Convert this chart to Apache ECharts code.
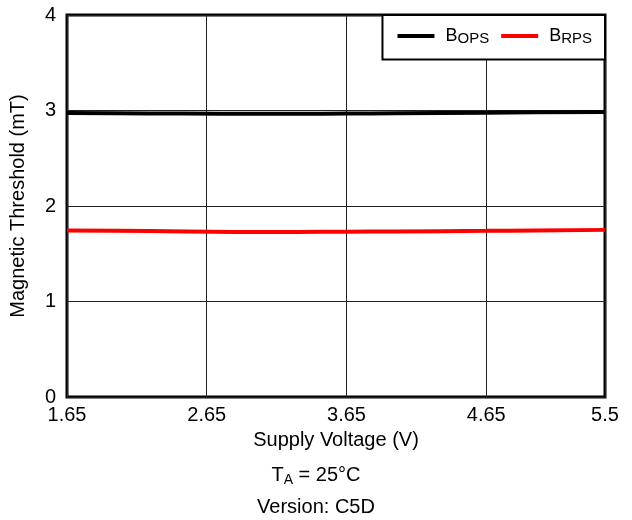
<!DOCTYPE html>
<html><head><meta charset="utf-8">
<script src="https://cdn.jsdelivr.net/npm/echarts@6/dist/echarts.min.js"></script>
<style>html,body{margin:0;padding:0;background:#fff}#c{width:632px;height:520px}</style>
</head><body><div id="c"></div>
<script>
const voltage = [1.65, 2.0, 2.5, 3.0, 3.3, 3.65, 4.0, 4.65, 5.0, 5.5];
const bops = [2.975, 2.972, 2.968, 2.966, 2.966, 2.968, 2.971, 2.977, 2.981, 2.985];
const brps = [1.743, 1.740, 1.734, 1.729, 1.729, 1.731, 1.734, 1.740, 1.744, 1.750];
const xTicks = [1.65, 2.65, 3.65, 4.65, 5.5];
const yTicks = [0, 1, 2, 3, 4];
const font = 'Liberation Sans, Arial, sans-serif';

const chart = echarts.init(document.getElementById('c'));
chart.setOption({
  animation: false,
  backgroundColor: '#fff',
  grid: {left: 67, right: 27, top: 15, bottom: 123, show: true, borderColor: '#000', borderWidth: 3},
  legend: {
    right: 27, top: 15,
    backgroundColor: '#fff', borderColor: '#000', borderWidth: 2,
    padding: [12, 13, 13, 15], itemGap: 12,
    itemWidth: 37, itemHeight: 4,
    icon: 'rect',
    data: ['BOPS', 'BRPS'],
    formatter: function (n) { return '{b|B}{s|' + n.slice(1) + '}'; },
    textStyle: {
      fontFamily: font, color: '#000',
      rich: {
        b: {fontSize: 18, fontFamily: font, color: '#000', padding: [0, 0, 0, 6]},
        s: {fontSize: 15, fontFamily: font, color: '#000', padding: [6, 0, 0, 0]}
      }
    }
  },
  xAxis: {
    type: 'value', min: 1.65, max: 5.5,
    name: 'Supply Voltage (V)', nameLocation: 'middle', nameGap: 33,
    nameTextStyle: {fontFamily: font, fontSize: 20, color: '#000'},
    axisLine: {show: false},
    axisTick: {show: false, customValues: xTicks},
    axisLabel: {customValues: xTicks, fontFamily: font, fontSize: 20, color: '#000', margin: 8,
      formatter: function (v) { return String(v); }},
    splitLine: {show: true, lineStyle: {color: '#222', width: 1}}
  },
  yAxis: {
    type: 'value', min: 0, max: 4, interval: 1,
    name: 'Magnetic Threshold (mT)', nameLocation: 'middle', nameGap: 39,
    nameTextStyle: {fontFamily: font, fontSize: 20, color: '#000'},
    axisLine: {show: false}, axisTick: {show: false},
    axisLabel: {fontFamily: font, fontSize: 20, color: '#000', margin: 11},
    splitLine: {show: true, lineStyle: {color: '#222', width: 1}}
  },
  series: [
    {name: 'BOPS', type: 'line', smooth: true, showSymbol: false,
     data: voltage.map((v, i) => [v, bops[i]]),
     lineStyle: {color: '#000', width: 4}, itemStyle: {color: '#000'}},
    {name: 'BRPS', type: 'line', smooth: true, showSymbol: false,
     data: voltage.map((v, i) => [v, brps[i]]),
     lineStyle: {color: '#ff0000', width: 4}, itemStyle: {color: '#ff0000'}}
  ],
  graphic: [
    {type: 'text', left: 'center', top: 465,
     style: {text: '{t|T}{s|A}{t| = 25°C}', fill: '#000',
       rich: {t: {fontFamily: font, fontSize: 20, fill: '#000'},
              s: {fontFamily: font, fontSize: 14, fill: '#000', padding: [10, 0, 0, 0]}}}},
    {type: 'text', left: 'center', top: 497,
     style: {text: 'Version: C5D', fontFamily: font, fontSize: 20, fill: '#000'}}
  ]
});
</script></body></html>
